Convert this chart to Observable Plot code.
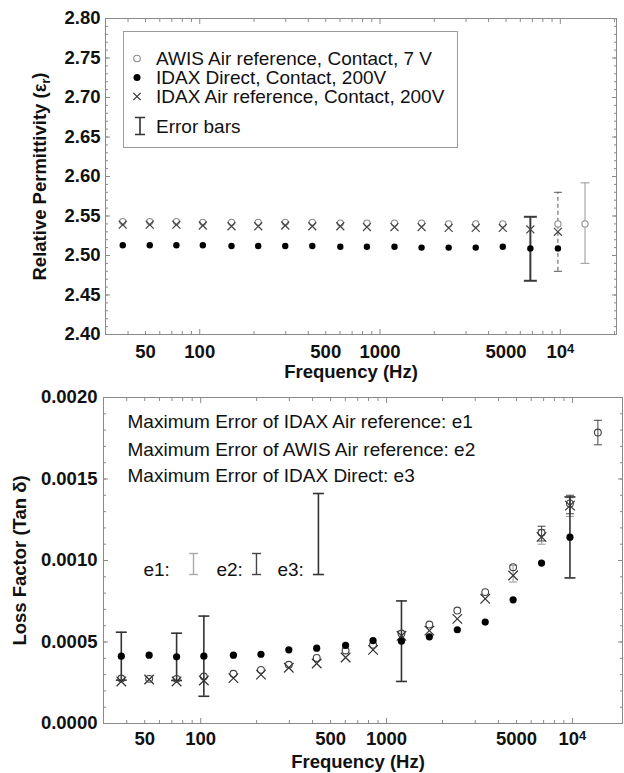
<!DOCTYPE html>
<html>
<head>
<meta charset="utf-8">
<script src="https://cdn.jsdelivr.net/npm/d3@7"></script>
<script src="https://cdn.jsdelivr.net/npm/@observablehq/plot@0.6"></script>
<style>
  html, body { margin: 0; padding: 0; background: #fff; }
  body { width: 624px; height: 773px; overflow: hidden; font-family: "Liberation Sans", Arial, sans-serif; }
  .panel { position: relative; width: 624px; }
  .panel > svg { display: block; }
  #legend { position: absolute; left: 123px; top: 31px; }
</style>
</head>
<body>
<div class="panel" id="topPanel"></div>
<div class="panel" id="bottomPanel"></div>
<script>
// ---------------- data ----------------
const freq = [37.4, 52.8, 74.2, 104, 150, 211, 298, 421, 602, 846, 1203, 1700, 2403, 3395, 4797, 6822, 9700, 13709];

// Relative permittivity
const epsAwisAir  = [2.543, 2.543, 2.543, 2.542, 2.542, 2.542, 2.542, 2.542, 2.541, 2.541, 2.541, 2.541, 2.540, 2.540, 2.540, null, 2.540, 2.540];
const epsIdaxDirect = [2.513, 2.513, 2.513, 2.513, 2.512, 2.512, 2.512, 2.512, 2.511, 2.511, 2.511, 2.510, 2.510, 2.510, 2.511, 2.509, 2.509, null];
const epsIdaxAir  = [2.539, 2.539, 2.539, 2.538, 2.537, 2.537, 2.538, 2.537, 2.537, 2.536, 2.536, 2.536, 2.535, 2.535, 2.535, 2.533, 2.530, null];

const epsBarDirectFreq = [6822];  const epsBarDirectLow = [2.468]; const epsBarDirectHigh = [2.549];
const epsBarIdaxAirFreq = [9700]; const epsBarIdaxAirLow = [2.480]; const epsBarIdaxAirHigh = [2.580];
const epsBarAwisFreq = [13709];   const epsBarAwisLow = [2.490];    const epsBarAwisHigh = [2.592];

// Loss factor
const tanAwisAir = [0.000276, 0.000274, 0.000274, 0.000288, 0.000305, 0.000329, 0.00036, 0.000402, 0.000448, 0.000483, 0.000552, 0.000607, 0.000693, 0.000806, 0.000959, 0.00117, 0.00135, 0.001785];
const tanIdaxDirect = [0.000413, 0.000419, 0.000409, 0.000413, 0.000419, 0.000425, 0.000452, 0.000462, 0.000479, 0.000509, 0.000505, 0.000532, 0.000575, 0.000622, 0.000759, 0.000984, 0.001143, null];
const tanIdaxAir = [0.000258, 0.00027, 0.000258, 0.000264, 0.000278, 0.0003, 0.000342, 0.000368, 0.000405, 0.000452, 0.000538, 0.00057, 0.000642, 0.000765, 0.000908, 0.001145, 0.001337, null];

const tanBarDirectFreq = [37.4, 74.2, 104, 1203, 9700];
const tanBarDirectLow  = [0.000266, 0.000264, 0.000167, 0.000258, 0.000893];
const tanBarDirectHigh = [0.00056, 0.000554, 0.000659, 0.000752, 0.00139];
const tanBarIdaxAirFreq = [4797, 6822, 9700];
const tanBarIdaxAirLow  = [0.000868, 0.00110, 0.00127];
const tanBarIdaxAirHigh = [0.00097, 0.00119, 0.001385];
const tanBarAwisFreq = [6822, 9700, 13709];
const tanBarAwisLow  = [0.00112, 0.001287, 0.00171];
const tanBarAwisHigh = [0.00121, 0.0014, 0.00186];

// Annotations (bottom panel)
const noteText = ["Maximum Error of IDAX Air reference: e1", "Maximum Error of AWIS Air reference: e2", "Maximum Error of IDAX Direct: e3"];
const noteFreq = [40.4, 40.4, 40.4];
const noteTan  = [0.001853, 0.001680, 0.001521];
const eLabel = ["e1:", "e2:", "e3:"];
const eLabelFreq = [49.2, 121.6, 258.8];
const eLabelTan  = [0.000945, 0.000945, 0.000945];
const eBarFreq = [91.5, 199.6, 430];
const eBarLow  = [0.000914, 0.000914, 0.000914];
const eBarHigh = [0.001043, 0.001043, 0.001411];

// Legend labels (top panel)
const legendLabels = ["AWIS Air reference, Contact, 7 V", "IDAX Direct, Contact, 200V", "IDAX Air reference, Contact, 200V", "Error bars"];

// Ticks
const xLabelTicks = [50, 100, 500, 1000, 5000, 10000];
const xMinorTicks = [30, 40, 50, 60, 70, 80, 90, 200, 300, 400, 500, 600, 700, 800, 900, 2000, 3000, 4000, 5000, 6000, 7000, 8000, 9000, 20000];
const xMajorTicks = [100, 1000, 10000];
const epsTicks = [2.40, 2.45, 2.50, 2.55, 2.60, 2.65, 2.70, 2.75, 2.80];
const tanTicks = [0, 0.0005, 0.0010, 0.0015, 0.0020];
const xTitle = "Frequency (Hz)";
const epsTitle = "Relative Permittivity (εr)";
const tanTitle = "Loss Factor (Tan δ)";

// ---------------- helpers ----------------
const FONT = "'Liberation Sans', Arial, Helvetica, sans-serif";
const FRAME = "#8a8a8a";
const capSymbol = {
  draw(context, size) {
    const w = Math.sqrt(size / Math.PI);
    context.moveTo(-w, 0);
    context.lineTo(w, 0);
  }
};
const fmtX = d => d === 10000 ? "10⁴" : String(d);

function errorBars(fs, los, his, {stroke, strokeWidth = 1, cap = 5, dash = null, capWidth}) {
  const data = fs.map((f, i) => ({f, lo: los[i], hi: his[i]}));
  const cw = capWidth ?? strokeWidth;
  return [
    Plot.ruleX(data, {x: "f", y1: "lo", y2: "hi", stroke, strokeWidth, strokeDasharray: dash}),
    Plot.dot(data, {x: "f", y: "lo", symbol: capSymbol, r: cap, fill: "none", stroke, strokeWidth: cw}),
    Plot.dot(data, {x: "f", y: "hi", symbol: capSymbol, r: cap, fill: "none", stroke, strokeWidth: cw})
  ];
}

function frameTicks(yMajor, yMinor) {
  const o = {tickFormat: () => "", label: null, stroke: FRAME};
  return [
    Plot.axisX({...o, anchor: "bottom", ticks: xMinorTicks, tickSize: -3}),
    Plot.axisX({...o, anchor: "top", ticks: xMinorTicks, tickSize: -3}),
    Plot.axisX({...o, anchor: "bottom", ticks: xMajorTicks, tickSize: -5}),
    Plot.axisX({...o, anchor: "top", ticks: xMajorTicks, tickSize: -5}),
    Plot.axisY({...o, anchor: "left", ticks: yMinor, tickSize: -3}),
    Plot.axisY({...o, anchor: "right", ticks: yMinor, tickSize: -3}),
    Plot.axisY({...o, anchor: "left", ticks: yMajor, tickSize: -5}),
    Plot.axisY({...o, anchor: "right", ticks: yMajor, tickSize: -5})
  ];
}

function fixTexts(svg) {
  d3.select(svg).selectAll("text").each(function() {
    const t = d3.select(this);
    if (this.childElementCount === 0 && this.textContent === "10⁴") {
      t.text("10");
      t.append("tspan").attr("dy", "-0.42em").attr("font-size", "0.7em").text("4");
    } else if (this.childElementCount === 0 && this.textContent === epsTitle) {
      t.text("Relative Permittivity (ε");
      t.append("tspan").attr("dy", "0.3em").attr("font-size", "0.68em").text("r");
      t.append("tspan").attr("dy", "-0.3em").text(")");
    }
  });
}

// ---------------- top panel ----------------
const topRows = freq.map((f, i) => ({f, a: epsAwisAir[i], d: epsIdaxDirect[i], x: epsIdaxAir[i]}));
const epsMinor = d3.range(241, 280).map(v => v / 100);

const topPlot = Plot.plot({
  width: 624, height: 387,
  marginTop: 18, marginBottom: 53, marginLeft: 105, marginRight: 8,
  style: {fontFamily: FONT, fontSize: "18.5px", color: "#111", background: "#fff"},
  x: {type: "log", domain: [30, 20500]},
  y: {domain: [2.40, 2.80]},
  marks: [
    Plot.frame({stroke: FRAME}),
    ...frameTicks(epsTicks, epsMinor),
    Plot.axisY({anchor: "left", ticks: epsTicks, tickSize: 0, tickPadding: 5, tickFormat: d3.format(".2f"), label: null, fontWeight: "bold", fontSize: 18.5}),
    Plot.text(xLabelTicks, {x: d => d, text: fmtX, frameAnchor: "bottom", dy: 18, textAnchor: "middle", lineAnchor: "middle", fontWeight: "bold", fontSize: 18.5}),
    Plot.text([xTitle], {text: d => d, frameAnchor: "bottom", dy: 38, dx: -10, textAnchor: "middle", fontWeight: "bold", fontSize: 18.5, lineAnchor: "middle"}),
    Plot.text([epsTitle], {text: d => d, frameAnchor: "left", dx: -65, rotate: -90, textAnchor: "middle", fontWeight: "bold", fontSize: 18.5, lineAnchor: "middle"}),
    ...errorBars(epsBarDirectFreq, epsBarDirectLow, epsBarDirectHigh, {stroke: "#3a3a3a", strokeWidth: 2, cap: 6.5}),
    ...errorBars(epsBarIdaxAirFreq, epsBarIdaxAirLow, epsBarIdaxAirHigh, {stroke: "#555", strokeWidth: 1, cap: 4, dash: "4,3"}),
    ...errorBars(epsBarAwisFreq, epsBarAwisLow, epsBarAwisHigh, {stroke: "#a8a8a8", strokeWidth: 1.2, cap: 4.5}),
    Plot.dot(topRows.filter(r => r.a != null), {x: "f", y: "a", r: 3.1, fill: "#fff", stroke: "#8c8c8c", strokeWidth: 1.1}),
    Plot.dot(topRows.filter(r => r.x != null), {x: "f", y: "x", symbol: "times", r: 3.7, stroke: "#444", strokeWidth: 1.2}),
    Plot.dot(topRows.filter(r => r.d != null), {x: "f", y: "d", r: 3.2, fill: "#000", stroke: "none"})
  ]
});
fixTexts(topPlot);
document.getElementById("topPanel").appendChild(topPlot);

// legend overlay
(function() {
  const W = 335, H = 117;
  const svg = d3.select("#topPanel").append("svg").attr("id", "legend")
    .attr("width", W).attr("height", H)
    .style("font-family", FONT).style("font-size", "19px");
  svg.append("rect").attr("x", 0.5).attr("y", 0.5).attr("width", W - 1).attr("height", H - 1)
    .attr("fill", "#fff").attr("stroke", "#9a9a9a");
  const rows = [27.5, 46.5, 65.5, 95];
  const sx = 14, tx = 33;
  svg.append("circle").attr("cx", sx).attr("cy", rows[0]).attr("r", 3.3).attr("fill", "none").attr("stroke", "#8c8c8c").attr("stroke-width", 1.1);
  svg.append("circle").attr("cx", sx).attr("cy", rows[1]).attr("r", 3.5).attr("fill", "#000");
  svg.append("path").attr("d", `M${sx-3.7},${rows[2]-3.7}L${sx+3.7},${rows[2]+3.7}M${sx+3.7},${rows[2]-3.7}L${sx-3.7},${rows[2]+3.7}`)
    .attr("stroke", "#333").attr("stroke-width", 1.2);
  const ix = 17;
  svg.append("path").attr("d", `M${ix-5},${rows[3]-8.5}H${ix+5}M${ix},${rows[3]-8.5}V${rows[3]+8.5}M${ix-5},${rows[3]+8.5}H${ix+5}`)
    .attr("stroke", "#333").attr("stroke-width", 1.6).attr("fill", "none");
  legendLabels.forEach((lab, i) => {
    svg.append("text").attr("x", tx).attr("y", rows[i]).attr("dy", "0.35em").attr("fill", "#111").text(lab);
  });
})();

// ---------------- bottom panel ----------------
const botRows = freq.map((f, i) => ({f, a: tanAwisAir[i], d: tanIdaxDirect[i], x: tanIdaxAir[i]}));
const tanMinor = d3.range(1, 20).map(v => v / 10000);
const notes = noteText.map((t, i) => ({t, f: noteFreq[i], v: noteTan[i]}));
const eLabs = eLabel.map((t, i) => ({t, f: eLabelFreq[i], v: eLabelTan[i]}));

const botPlot = Plot.plot({
  width: 624, height: 386,
  marginTop: 10, marginBottom: 50, marginLeft: 103, marginRight: 2,
  style: {fontFamily: FONT, fontSize: "18.5px", color: "#111", background: "#fff"},
  x: {type: "log", domain: [30, 18600]},
  y: {domain: [0, 0.002]},
  marks: [
    Plot.frame({stroke: FRAME}),
    ...frameTicks(tanTicks, tanMinor),
    Plot.axisY({anchor: "left", ticks: tanTicks, tickSize: 0, tickPadding: 6, tickFormat: d3.format(".4f"), label: null, fontWeight: "bold", fontSize: 18.5}),
    Plot.text(xLabelTicks, {x: d => d, text: fmtX, frameAnchor: "bottom", dy: 16, textAnchor: "middle", lineAnchor: "middle", fontWeight: "bold", fontSize: 18.5}),
    Plot.text([xTitle], {text: d => d, frameAnchor: "bottom", dy: 39, dx: -5, textAnchor: "middle", fontWeight: "bold", fontSize: 18.5, lineAnchor: "middle"}),
    Plot.text([tanTitle], {text: d => d, frameAnchor: "left", dx: -83, rotate: -90, textAnchor: "middle", fontWeight: "bold", fontSize: 18.5, lineAnchor: "middle"}),
    Plot.text(notes, {x: "f", y: "v", text: "t", textAnchor: "start", fontSize: 19, fill: "#111", lineAnchor: "middle"}),
    Plot.text(eLabs, {x: "f", y: "v", text: "t", textAnchor: "start", fontSize: 19, fill: "#111", lineAnchor: "middle"}),
    ...errorBars([eBarFreq[0]], [eBarLow[0]], [eBarHigh[0]], {stroke: "#aaa", strokeWidth: 1.4, cap: 4.5}),
    ...errorBars([eBarFreq[1]], [eBarLow[1]], [eBarHigh[1]], {stroke: "#444", strokeWidth: 1.4, cap: 4.5}),
    ...errorBars([eBarFreq[2]], [eBarLow[2]], [eBarHigh[2]], {stroke: "#333", strokeWidth: 1.6, cap: 5.5}),
    ...errorBars(tanBarIdaxAirFreq, tanBarIdaxAirLow, tanBarIdaxAirHigh, {stroke: "#9c9c9c", strokeWidth: 1.1, cap: 4}),
    ...errorBars(tanBarAwisFreq, tanBarAwisLow, tanBarAwisHigh, {stroke: "#555", strokeWidth: 1.1, cap: 4}),
    ...errorBars(tanBarDirectFreq, tanBarDirectLow, tanBarDirectHigh, {stroke: "#333", strokeWidth: 1.6, cap: 5.5}),
    Plot.dot(botRows.filter(r => r.a != null), {x: "f", y: "a", r: 3.4, fill: "none", stroke: "#444", strokeWidth: 1.1}),
    Plot.dot(botRows.filter(r => r.x != null), {x: "f", y: "x", symbol: "times", r: 4.4, stroke: "#333", strokeWidth: 1.2}),
    Plot.dot(botRows.filter(r => r.d != null), {x: "f", y: "d", r: 3.6, fill: "#000", stroke: "none"})
  ]
});
fixTexts(botPlot);
document.getElementById("bottomPanel").appendChild(botPlot);
</script>
</body>
</html>
